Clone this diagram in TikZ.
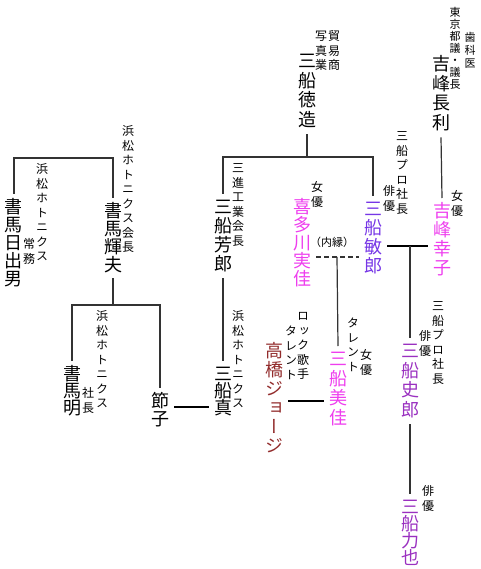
\documentclass[tikz,border=0pt]{standalone}
\usepackage{fontspec}
\setmainfont{Noto Sans CJK JP}[RawFeature={+vert}]
\newfontfamily\yoko{Noto Sans CJK JP}
\usepackage{xcolor}

\definecolor{toshirocol}{HTML}{7636E6}
\definecolor{shirocol}{HTML}{9A30C0}
\definecolor{joyucol}{HTML}{EE3EEE}
\definecolor{georgecol}{HTML}{922C2C}

% vertical text: one character per line, fixed pitch
\makeatletter
\newdimen\tatepitch \tatepitch=19pt
\newcommand\tate[1]{\vbox{\offinterlineskip
  \@tfor\tate@c:=#1\do{\hbox to 1em{\hss\vrule height .86em depth \dimexpr\tatepitch-.86em\relax width 0pt\tate@c\hss}}}}
\makeatother

\tikzset{
  tatestep/.code={\global\tatepitch=#1},
  person/.style={inner xsep=5pt, inner ysep=4pt, anchor=north,
    font=\fontsize{18}{19}\selectfont, tatestep=19pt},
  tight/.style={tatestep=16.7pt},
  mid/.style={tatestep=18pt},
  loose/.style={tatestep=19.5pt},
  note/.style={inner sep=0pt, anchor=north,
    font=\fontsize{12}{14}\selectfont, tatestep=14.5pt},
  link/.style={draw=black!80, line width=1.2pt},
  wed/.style={draw=black, line width=2.6pt},
}

\begin{document}
\begin{tikzpicture}[x=1pt, y=-1pt]
  \useasboundingbox (0,0) rectangle (480,569);
  % Mifune
  \node[person, loose] (tokuzo) at (307,48) {\tate{三船徳造}};
  \node[note] (tokuzo-a) at (321,30) {\tate{写真業}};
  \node[note] (tokuzo-b) at (334,30) {\tate{貿易商}};
  \node[person] (yoshiro) at (223,194) {\tate{三船芳郎}};
  \node[note] (yoshiro-a) at (238,162) {\tate{三進工業会長}};
  \node[person, text=toshirocol] (toshiro) at (373,196) {\tate{三船敏郎}};
  \node[note] (toshiro-a) at (402,130) {\tate{三船プロ社長}};
  \node[note] (toshiro-b) at (389,185) {\tate{俳優}};
  \node[person, mid, text=joyucol] (kitagawa) at (302,194) {\tate{喜多川実佳}};
  \node[note] (kitagawa-a) at (317,181) {\tate{女優}};
  \node[inner sep=0pt, font=\yoko\fontsize{11}{13}\selectfont] (naien) at (332,242) {（内縁）};
  % Yoshimine
  \node[person, loose] (choli) at (441,51) {\tate{吉峰長利}};
  \node[note, font=\fontsize{11}{12}\selectfont, tatestep=12pt] (choli-a) at (455,7) {\tate{東京都議・議長}};
  \node[note, font=\fontsize{11}{12}\selectfont, tatestep=13pt] (choli-b) at (470,32) {\tate{歯科医}};
  \node[person, text=joyucol] (sachiko) at (442,198) {\tate{吉峰幸子}};
  \node[note] (sachiko-a) at (457,190) {\tate{女優}};
  % Shoma
  \node[person, mid] (hideo) at (14,194) {\tate{書馬日出男}};
  \node[note] (hideo-a) at (42,163) {\tate{浜松ホトニクス}};
  \node[note] (hideo-b) at (29,238) {\tate{常務}};
  \node[person, mid] (teruo) at (113,198) {\tate{書馬輝夫}};
  \node[note] (teruo-a) at (128,125) {\tate{浜松ホトニクス会長}};
  \node[person, tight] (akira) at (72,361) {\tate{書馬明}};
  \node[note] (akira-a) at (102,310) {\tate{浜松ホトニクス}};
  \node[note] (akira-b) at (88,387) {\tate{社長}};
  \node[person, mid] (setsuko) at (160,388) {\tate{節子}};
  % next generation
  \node[person, tight] (makoto) at (223,361) {\tate{三船真}};
  \node[note] (makoto-a) at (238,310) {\tate{浜松ホトニクス}};
  \node[person, text=georgecol] (george) at (274,338) {\tate{高橋ジョージ}};
  \node[note] (george-a) at (303,310) {\tate{ロック歌手}};
  \node[note] (george-b) at (291,325) {\tate{タレント}};
  \node[person, loose, text=joyucol] (mika) at (338,346) {\tate{三船美佳}};
  \node[note] (mika-a) at (353,317) {\tate{タレント}};
  \node[note] (mika-b) at (366,349) {\tate{女優}};
  \node[person, loose, text=shirocol] (shiro) at (410,338) {\tate{三船史郎}};
  \node[note] (shiro-a) at (438,300) {\tate{三船プロ社長}};
  \node[note] (shiro-b) at (425,330) {\tate{俳優}};
  \node[person, tight, text=shirocol] (rikiya) at (410,494) {\tate{三船力也}};
  \node[note] (rikiya-a) at (428,485) {\tate{俳優}};

  % lines
  \coordinate (tj) at (307,157);
  \draw[link] (tokuzo.south) -- (tj);
  \draw[link] (yoshiro.north) |- (tj) -| (toshiro.north);
  \draw[link] (choli.south) -- (sachiko.north);
  \coordinate (tm) at (410,246);
  \draw[wed] (toshiro.east |- tm) -- (sachiko.west |- tm);
  \draw[link] (tm) -- (shiro.north);
  \draw[link] (shiro.south) -- (rikiya.north);
  \coordinate (km) at (337,257);
  \draw[link, dash pattern=on 5pt off 3pt] (kitagawa.east |- km) -- (toshiro.west |- km);
  \draw[link] (km) -- (mika.north);
  \draw[link] (yoshiro.south) -- (makoto.north);
  \coordinate (sm) at (0,407);
  \draw[wed] (setsuko.east |- sm) -- (makoto.west |- sm);
  \coordinate (gm) at (0,401);
  \draw[wed] (george.east |- gm) -- (mika.west |- gm);
  \coordinate (hj) at (0,158);
  \draw[link] (hideo.north) -- (hideo.north |- hj) -| (teruo.north);
  \coordinate (rj) at (113,305);
  \draw[link] (teruo.south) -- (rj);
  \draw[link] (akira.north) |- (rj) -| (setsuko.north);
\end{tikzpicture}
\end{document}
